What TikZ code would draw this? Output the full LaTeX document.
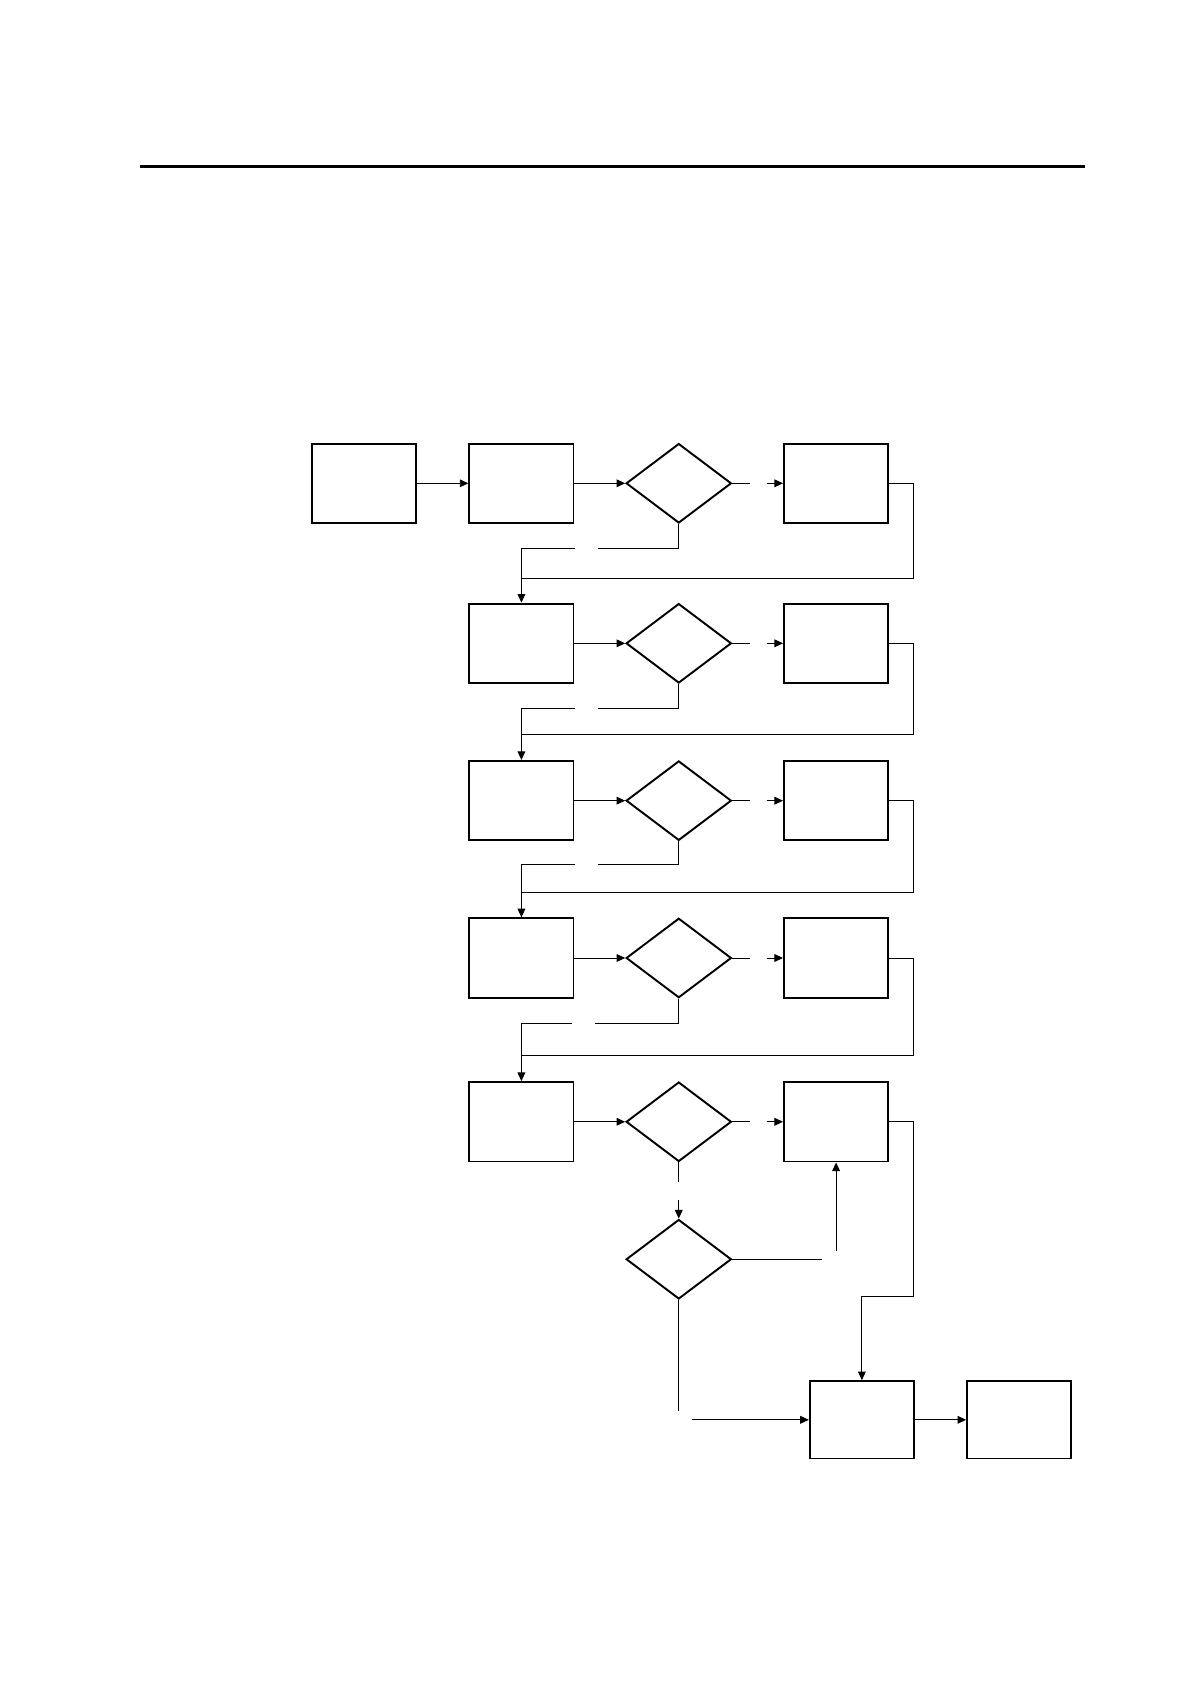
\documentclass[tikz,border=0pt]{standalone}
\usetikzlibrary{shapes.geometric,arrows.meta,calc}
\tikzset{
  boxnode/.style={draw,line width=0.9pt,rectangle,minimum width=48.5pt,minimum height=37pt,inner sep=0pt},
  decnode/.style={draw,line width=0.9pt,diamond,minimum width=49pt,minimum height=37pt,inner sep=0pt},
  conn/.style={line width=0.45pt},
  arr/.style={line width=0.45pt,-{Triangle[length=4pt,width=3.6pt]}}
}
\begin{document}
\begin{tikzpicture}[x=0.5pt,y=-0.5pt]
\useasboundingbox (0,0) rectangle (1108,1568);
\draw[line width=1.1pt] (130,155) coordinate (r1) -- (1010,155) coordinate (r2);
% row 1
\node[boxnode] (A) at (339,450) {};
\node[boxnode] (B1) at (485.5,450) {};
\node[decnode] (D1) at (632,450) {};
\node[boxnode] (C1) at (778.5,450) {};
% row 2
\node[boxnode] (B2) at (485.5,599) {};
\node[decnode] (D2) at (632,599) {};
\node[boxnode] (C2) at (778.5,599) {};
% row 3
\node[boxnode] (B3) at (485.5,745.5) {};
\node[decnode] (D3) at (632,745.5) {};
\node[boxnode] (C3) at (778.5,745.5) {};
% row 4
\node[boxnode] (B4) at (485.5,892) {};
\node[decnode] (D4) at (632,892) {};
\node[boxnode] (C4) at (778.5,892) {};
% row 5
\node[boxnode] (B5) at (485.5,1044.5) {};
\node[decnode] (D5) at (632,1044.5) {};
\node[boxnode] (C5) at (778.5,1044.5) {};
% lower part
\node[decnode] (D6) at (632,1172.5) {};
\node[boxnode,minimum height=36pt] (E) at (802.5,1322) {};
\node[boxnode,minimum height=36pt] (F) at (949,1322) {};

\draw[arr] (A.east) -- (B1.east -| B1.west);

% generic rows
\foreach \i/\yb/\fb/\ga/\gb [evaluate=\i as \j using int(\i+1)] in {1/511/539/557/535,2/660/684/557/535,3/805/831/557/535,4/953/983/554/533}{
  \draw[arr] (B\i.east) -- (D\i.west);
  \coordinate (ya\i) at ($(D\i.east)+(16,0)$);
  \coordinate (yb\i) at ($(D\i.east)+(32,0)$);
  \draw[conn] (D\i.east) -- (ya\i);
  \draw[arr] (yb\i) -- (C\i.west);
  \coordinate (na\i) at (\ga,\yb);
  \coordinate (nb\i) at (\gb,\yb);
  \draw[conn] (D\i.south) |- (na\i);
  \draw[arr] (nb\i) -| (B\j.north);
  \coordinate (fc\i) at (851,\fb);
  \coordinate (fd\i) at (485.5,\fb);
  \draw[conn] (C\i.east) -| (fc\i) -- (fd\i);
}

% row 5
\draw[arr] (B5.east) -- (D5.west);
\coordinate (ya5) at ($(D5.east)+(16,0)$);
\coordinate (yb5) at ($(D5.east)+(32,0)$);
\draw[conn] (D5.east) -- (ya5);
\draw[arr] (yb5) -- (C5.west);
\coordinate (da5) at (632,1101);
\coordinate (db5) at (632,1117);
\draw[conn] (D5.south) -- (da5);
\draw[arr] (db5) -- (D6.north);
\coordinate (ea6) at (765,1172.5);
\coordinate (eb6) at (778.5,1165);
\draw[conn] (D6.east) -- (ea6);
\draw[arr] (eb6) -- (C5.south);
\coordinate (fc5) at (851,1207);
\draw[arr] (C5.east) -| (fc5) -| (E.north);
\coordinate (sa6) at (632,1314);
\coordinate (sb6) at (644,1322);
\draw[conn] (D6.south) -- (sa6);
\draw[arr] (sb6) -- (E.west);
\draw[arr] (E.east) -- (F.west);
\end{tikzpicture}
\end{document}
